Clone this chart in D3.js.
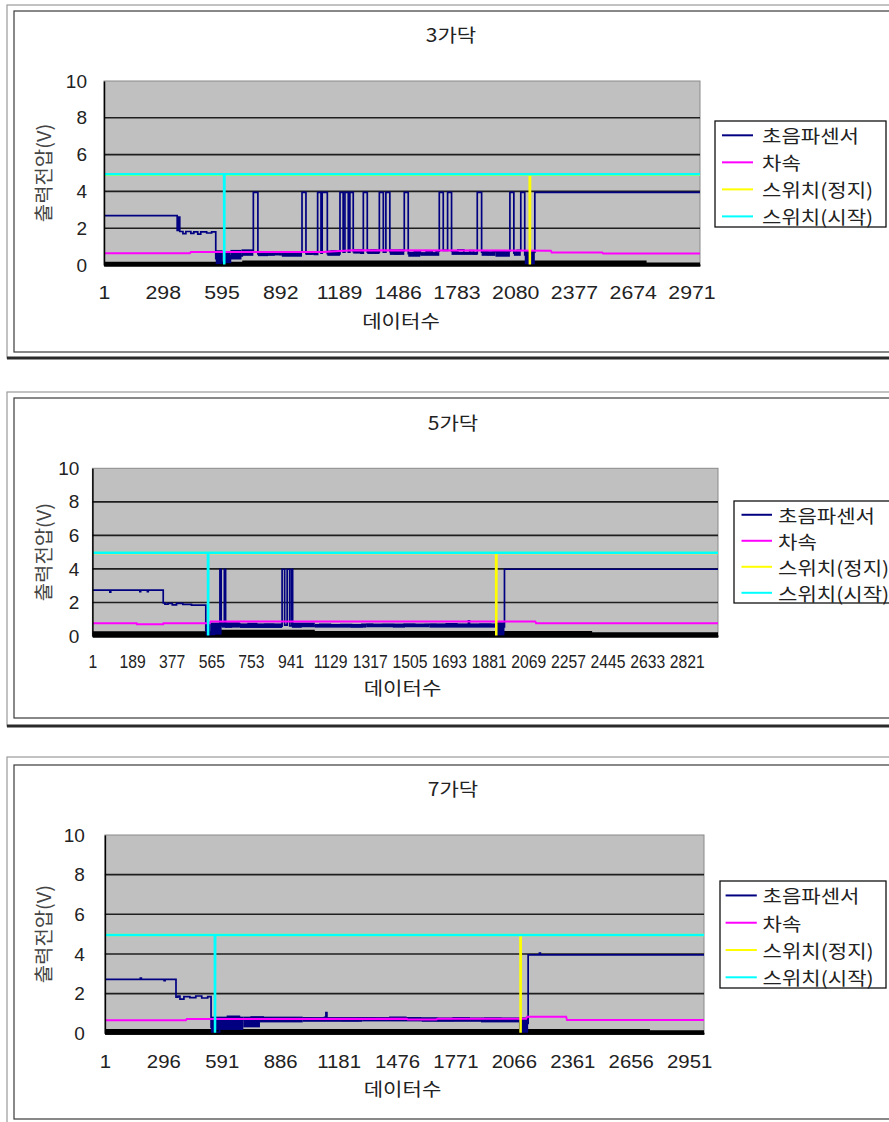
<!DOCTYPE html>
<html><head><meta charset="utf-8">
<script src="https://cdn.jsdelivr.net/npm/d3@7"></script>
<style>body{margin:0;background:#fff}svg{display:block}</style>
</head><body>
<svg id="c" width="889" height="1122"></svg>
<script>
// ================= DATA =================
const titles = ["3가닥", "5가닥", "7가닥"];
const seriesNames = ["초음파센서", "차속", "스위치(정지)", "스위치(시작)"];
const xTitle = "데이터수";
const yTitle = "출력전압(V)";
const yTicks = [0, 2, 4, 6, 8, 10];
const xTicks1 = [1, 298, 595, 892, 1189, 1486, 1783, 2080, 2377, 2674, 2971];
const xTicks2 = [1, 189, 377, 565, 753, 941, 1129, 1317, 1505, 1693, 1881, 2069, 2257, 2445, 2633, 2821];
const xTicks3 = [1, 296, 591, 886, 1181, 1476, 1771, 2066, 2361, 2656, 2951];
const pointCounts = [3014, 2969, 3026];

// ---- 3가닥 ----  [data index, volts]
const sensor1 = [[1,2.68],[371,1.88],[377,2.6],[384,1.82],[400,1.7],[415,1.82],[440,1.72],[455,1.8],[475,1.68],[490,1.8],[520,1.74],[545,1.8],[566,0.35],[590,0.15],[640,0.5],[700,0.72],[720,0.6],[745,0.75],
 [756,3.95],[779,0.6],[800,0.72],[830,0.55],[860,0.7],[890,0.58],[920,0.72],[950,0.6],[980,0.7],
 [1002,3.95],[1022,0.62],[1050,0.72],[1065,0.58],[1081,3.95],[1098,0.65],[1104,3.95],[1130,0.62],[1150,0.75],[1175,0.6],
 [1194,3.95],[1210,0.7],[1219,3.95],[1236,0.7],[1244,3.95],[1261,0.72],[1285,0.8],[1300,0.65],
 [1312,3.95],[1332,0.7],[1350,0.82],[1375,0.68],[1393,3.95],[1413,0.7],[1426,3.95],[1446,0.72],[1470,0.62],[1495,0.78],
 [1519,3.95],[1539,0.62],[1570,0.75],[1600,0.6],[1630,0.72],[1660,0.62],[1680,0.75],
 [1696,3.95],[1716,0.8],[1738,3.95],[1758,0.75],[1790,0.82],[1820,0.66],[1850,0.78],[1870,0.62],
 [1888,3.95],[1910,0.7],[1940,0.58],[1970,0.72],[2000,0.6],[2030,0.75],
 [2053,3.95],[2073,0.65],[2090,0.8],[2108,3.95],[2128,0.55],[2150,0.2],[2165,0.7],
 [2179,3.95],[3014,3.95]];
const band1 = [[566,600,0.05,0.8],[600,640,0.1,0.75],[640,696,0.3,0.82],[696,756,0.5,0.85],[779,830,0.48,0.75],[830,900,0.52,0.72],[900,1002,0.45,0.75],[1022,1081,0.55,0.75],[1130,1194,0.5,0.78],[1261,1312,0.62,0.86],[1332,1393,0.6,0.85],[1446,1519,0.55,0.85],[1539,1600,0.45,0.72],[1600,1696,0.5,0.7],[1758,1888,0.55,0.72],[1910,1980,0.5,0.75],[1980,2053,0.45,0.78],[2073,2108,0.5,0.75],[2128,2179,0.02,0.78]];
const speed1 = [[1,0.64],[435,0.64],[440,0.7],[1108,0.7],[1259,0.8],[2260,0.78],[2264,0.68],[2520,0.68],[2525,0.62],[3014,0.62]];
const stop1 = [[1,4.9],[2153,4.9],[2154,0],[2155,4.9],[3014,4.9]];
const start1 = [[1,4.93],[608,4.93],[609,0],[610,4.93],[3014,4.93]];
const floor1 = [[1,0.18],[700,0.24],[2744,0.14],[3014,0.14]];

// ---- 5가닥 ----
const sensor2 = [[1,2.74],[84,2.62],[88,2.74],[226,2.64],[230,2.74],[262,2.64],[266,2.74],[337,1.98],[345,1.9],[360,1.95],[380,1.86],[400,1.95],[430,1.88],[471,1.84],[539,0.35],[555,0.08],[580,0.45],
 [606,3.98],[612,0.62],[627,3.98],[633,0.55],[660,0.72],[700,0.6],[740,0.74],[780,0.62],[820,0.7],[860,0.58],
 [901,3.98],[913,0.65],[925,3.98],[937,0.6],[946,3.98],[951,0.55],[990,0.72],[1030,0.6],[1080,0.7],[1130,0.58],[1180,0.68],[1230,0.56],[1280,0.7],[1330,0.6],[1380,0.68],[1430,0.56],[1480,0.7],[1530,0.6],[1580,0.68],[1630,0.58],[1680,0.72],[1730,0.6],[1785,0.9],[1790,0.62],[1840,0.7],[1890,0.6],[1917,0.15],[1935,0.55],
 [1956,3.98],[2969,3.98]];
const band2 = [[539,560,0.0,0.8],[560,614,0.08,0.8],[614,700,0.5,0.82],[700,901,0.48,0.75],[951,1056,0.52,0.8],[1056,1300,0.5,0.72],[1300,1600,0.52,0.74],[1600,1917,0.5,0.75],[1917,1956,0.02,0.82]];
const speed2 = [[1,0.76],[211,0.76],[212,0.7],[337,0.7],[338,0.76],[558,0.76],[562,0.86],[2102,0.86],[2106,0.76],[2969,0.76]];
const stop2 = [[1,4.95],[1916,4.95],[1917,0],[1918,4.95],[2969,4.95]];
const start2 = [[1,4.97],[549,4.97],[550,0],[551,4.97],[2969,4.97]];
const floor2 = [[1,0.28],[611,0.38],[1056,0.3],[2372,0.22],[2969,0.22]];

// ---- 7가닥 ----
const sensor3 = [[1,2.72],[180,2.78],[185,2.72],[300,2.65],[305,2.72],[360,1.82],[370,1.88],[380,1.72],[400,1.85],[430,1.8],[460,1.88],[490,1.78],[520,1.85],[537,0.3],[557,0.05],[580,0.5],[620,0.85],[680,0.7],[740,0.82],[800,0.68],[860,0.78],[920,0.65],[980,0.75],[1040,0.68],[1110,0.8],[1117,1.05],[1122,0.72],[1200,0.65],[1280,0.78],[1360,0.7],[1440,0.8],[1520,0.68],[1600,0.75],[1680,0.65],[1760,0.78],[1840,0.68],[1920,0.75],[2000,0.62],[2060,0.72],[2096,0.1],[2120,0.5],
 [2138,3.95],[2195,4.05],[2200,3.95],[3026,3.95]];
const band3 = [[537,560,0.0,0.84],[560,700,0.17,0.84],[700,784,0.3,0.84],[784,1000,0.55,0.84],[1000,1300,0.58,0.82],[1300,1600,0.6,0.82],[1600,1900,0.58,0.8],[1900,2096,0.55,0.8],[2096,2138,0.02,0.8]];
const speed3 = [[1,0.66],[410,0.66],[414,0.72],[1525,0.74],[1530,0.7],[1675,0.7],[1680,0.74],[2128,0.74],[2132,0.83],[2330,0.83],[2334,0.67],[3026,0.67]];
const stop3 = [[1,4.96],[2099,4.96],[2100,0],[2101,4.96],[3026,4.96]];
const start3 = [[1,4.96],[556,4.96],[557,0],[558,4.96],[3026,4.96]];
const floor3 = [[1,0.22],[2753,0.15],[3026,0.15]];

const seriesColors = ["#000080", "#ff00ff", "#ffff00", "#00ffff"];

// ================= LAYOUT =================
const layouts = [
  {oy:5, ob:358, iy:11, ib:352, left:104, right:700, top:81, bottom:265, titleY:34, titleX:451, xLabY:293, xTitleY:320, xTitleX:401, yPad:17, yTitleX:43, tickScale:1.15,
   legend:{x:715, y:121, w:171, h:106, lx1:722, lx2:753, tx:762}},
  {oy:392, ob:726, iy:398, ib:718, left:92.4, right:718, top:468.3, bottom:636, titleY:422, titleX:453, xLabY:662, xTitleY:687, xTitleX:402.5, yPad:13, yTitleX:42.5, tickScale:0.85,
   legend:{x:734, y:501, w:175, h:102, lx1:741.5, lx2:772, tx:778}},
  {oy:757, ob:1140, iy:765, ib:1119, left:104.9, right:704, top:835, bottom:1033.3, titleY:788, titleX:453, xLabY:1062, xTitleY:1088, xTitleX:402.5, yPad:20, yTitleX:42.5, tickScale:1.1,
   legend:{x:720, y:881, w:166, h:107, lx1:725.6, lx2:756.8, tx:762.5}}
];

const panels = [
  {title:titles[0], ticks:xTicks1, n:pointCounts[0], sensor:sensor1, band:band1, speed:speed1, stop:stop1, start:start1, floor:floor1},
  {title:titles[1], ticks:xTicks2, n:pointCounts[1], sensor:sensor2, band:band2, speed:speed2, stop:stop2, start:start2, floor:floor2},
  {title:titles[2], ticks:xTicks3, n:pointCounts[2], sensor:sensor3, band:band3, speed:speed3, stop:stop3, start:start3, floor:floor3}
];

const KR = "'Noto Sans CJK KR', 'Noto Sans', sans-serif";
const NUM = "'Liberation Sans', Arial, sans-serif";
const KR_SIZE = 18.5, KR_SX = 1.14;
const svg = d3.select("#c");

// Korean text with the slightly wide look of the original
function krText(parent, x, y, str, opts) {
  const o = Object.assign({anchor: "start", rotate: 0, size: KR_SIZE, sx: KR_SX, fill: "#222"}, opts || {});
  return parent.append("text")
    .attr("transform", `translate(${x},${y}) rotate(${o.rotate}) scale(${o.sx},1)`)
    .attr("text-anchor", o.anchor).attr("dominant-baseline", "central")
    .attr("font-family", KR).attr("font-size", o.size).attr("fill", o.fill).text(str);
}

panels.forEach((p, i) => {
  const L = layouts[i];
  const g = svg.append("g");

  // frames
  g.append("rect").attr("x", 7).attr("y", L.oy).attr("width", 900).attr("height", L.ob - L.oy)
    .attr("fill", "none").attr("stroke", "#9a9a9a").attr("stroke-width", 1.2);
  g.append("line").attr("x1", 7).attr("x2", 889).attr("y1", L.ob).attr("y2", L.ob)
    .attr("stroke", "#2a2a2a").attr("stroke-width", 3);
  g.append("rect").attr("x", 14).attr("y", L.iy).attr("width", 900).attr("height", L.ib - L.iy)
    .attr("fill", "#fff").attr("stroke", "#3a3a3a").attr("stroke-width", 1.2);

  const x = d3.scaleLinear().domain([1, p.n]).range([L.left, L.right]);
  const y = d3.scaleLinear().domain([0, 10]).range([L.bottom, L.top]);

  // plot area
  g.append("rect").attr("x", L.left).attr("y", L.top).attr("width", L.right - L.left).attr("height", L.bottom - L.top)
    .attr("fill", "#c0c0c0").attr("stroke", "#8a8a8a").attr("stroke-width", 1);

  // grid
  g.selectAll("line.grid").data(yTicks.filter(v => v > 0 && v < 10)).join("line").attr("class", "grid")
    .attr("x1", L.left).attr("x2", L.right).attr("y1", d => y(d)).attr("y2", d => y(d))
    .attr("stroke", "#1e1e1e").attr("stroke-width", 1.6);

  const clipId = "clip" + i;
  g.append("clipPath").attr("id", clipId).append("rect")
    .attr("x", L.left).attr("y", L.top - 2).attr("width", L.right - L.left).attr("height", L.bottom - L.top + 4);
  const plot = g.append("g").attr("clip-path", `url(#${clipId})`);

  // floor series (black band)
  plot.append("path").datum(p.floor)
    .attr("d", d3.area().x(d => x(d[0])).y0(y(0) + 1.5).y1(d => y(d[1])).curve(d3.curveStepAfter))
    .attr("fill", "#000");

  // sensor noise band
  plot.selectAll("rect.band").data(p.band).join("rect").attr("class", "band")
    .attr("x", d => x(d[0])).attr("width", d => x(d[1]) - x(d[0]))
    .attr("y", d => y(d[3])).attr("height", d => y(d[2]) - y(d[3]))
    .attr("fill", "#000080");

  // sensor line
  plot.append("path").datum(p.sensor)
    .attr("d", d3.line().x(d => x(d[0])).y(d => y(d[1])).curve(d3.curveStepAfter))
    .attr("fill", "none").attr("stroke", seriesColors[0]).attr("stroke-width", 1.7);

  const lin = d3.line().x(d => x(d[0])).y(d => y(d[1]));
  plot.append("path").datum(p.speed).attr("d", lin)
    .attr("fill", "none").attr("stroke", seriesColors[1]).attr("stroke-width", 2);
  plot.append("path").datum(p.stop).attr("d", lin)
    .attr("fill", "none").attr("stroke", seriesColors[2]).attr("stroke-width", 2.5);
  plot.append("path").datum(p.start).attr("d", lin)
    .attr("fill", "none").attr("stroke", seriesColors[3]).attr("stroke-width", 2.5);

  // y axis
  const ya = g.append("g").attr("transform", `translate(${L.left},0)`)
    .call(d3.axisLeft(y).tickValues(yTicks).tickSize(0).tickPadding(L.yPad).tickFormat(d3.format("d")));
  ya.select(".domain").attr("stroke", "#000").attr("stroke-width", 1.5);
  ya.selectAll("text").attr("font-family", NUM).attr("font-size", 19).attr("fill", "#222");

  // x axis
  const xa = g.append("g").attr("transform", `translate(0,${L.bottom})`)
    .call(d3.axisBottom(x).tickValues(p.ticks).tickSize(0).tickFormat(d3.format("d")));
  xa.select(".domain").attr("stroke", "#000").attr("stroke-width", 2);
  xa.selectAll("text").attr("font-family", NUM).attr("font-size", 18.5).attr("fill", "#222")
    .attr("y", L.xLabY - L.bottom).attr("dy", "0.35em")
    .attr("transform", `scale(${L.tickScale},1)`);

  // titles
  krText(g, L.titleX, L.titleY, p.title, {anchor: "middle"});
  krText(g, L.xTitleX, L.xTitleY, xTitle, {anchor: "middle"});
  krText(g, L.yTitleX, (L.top + L.bottom) / 2, yTitle, {anchor: "middle", rotate: -90, fill: "#444", size: 19, sx: 1.05});

  // legend
  const lg = L.legend;
  g.append("rect").attr("x", lg.x).attr("y", lg.y).attr("width", lg.w).attr("height", lg.h)
    .attr("fill", "#fff").attr("stroke", "#111").attr("stroke-width", 1.3);
  seriesNames.forEach((name, k) => {
    const ry = lg.y + lg.h * (0.135 + k * 0.255);
    g.append("line").attr("x1", lg.lx1).attr("x2", lg.lx2).attr("y1", ry).attr("y2", ry)
      .attr("stroke", seriesColors[k]).attr("stroke-width", 2);
    krText(g, lg.tx, ry, name);
  });
});
</script>
</body></html>
